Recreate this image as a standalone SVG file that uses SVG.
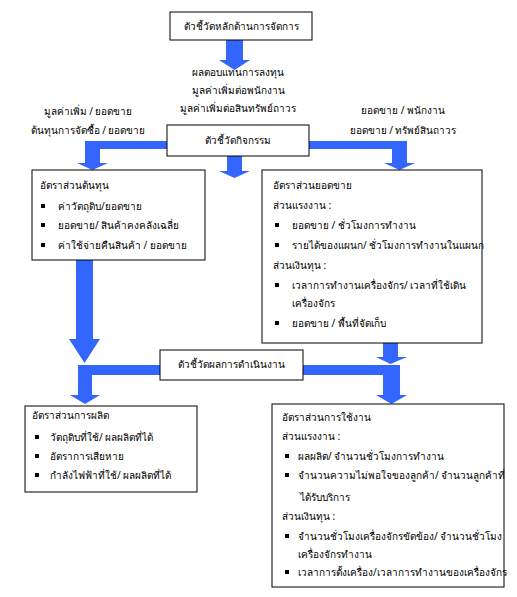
<svg xmlns="http://www.w3.org/2000/svg" width="517" height="597" viewBox="0 0 517 597">
<style>
text{font-family:"Noto Sans","DejaVu Sans",sans-serif;font-size:10px;fill:#000}
.c{text-anchor:middle}
.box{fill:#fff;stroke:#000;stroke-width:1}
.arr{fill:#3366ff;stroke:none}
.b{fill:#000}
</style>
<rect width="517" height="597" fill="#fff"/>
<g id="connectors">
<polygon class="arr" points="226,40 243,40 243,60 250,60 234.5,70 219,60 226,60"/>
<polygon class="arr" points="167,141 85,141 85,163 77,163 92.5,170 108,163 100,163 100,149 167,149"/>
<polygon class="arr" points="309,141 407,141 407,163 415,163 399.5,170 384,163 392,163 392,149 309,149"/>
<polygon class="arr" points="227,156 242,156 242,171 250,171 234.5,178 219,171 227,171"/>
<polygon class="arr" points="76,260 93,260 93,339 100,339 84.5,363 69,339 76,339"/>
<polygon class="arr" points="383,343 398,343 398,357 407,357 390.5,364 376,357 383,357"/>
<polygon class="arr" points="160,365 78,365 78,395 70,395 85,404 100,395 92,395 92,375 160,375"/>
<polygon class="arr" points="303,365 400,365 400,395 407,395 391.5,404 376,395 383,395 383,375 303,375"/>
</g>
<g id="top">
<rect class="box" x="170" y="12" width="142" height="28"/>
<text class="c" x="241" y="30">ตัวชี้วัดหลักด้านการจัดการ</text>
</g>
<g id="top-labels">
<text class="c" x="238" y="76">ผลตอบแทนการลงทุน</text>
<text class="c" x="238" y="94">มูลค่าเพิ่มต่อพนักงาน</text>
<text class="c" x="238" y="112">มูลค่าเพิ่มต่อสินทรัพย์ถาวร</text>
</g>
<g id="left-labels">
<text class="c" x="88" y="115">มูลค่าเพิ่ม / ยอดขาย</text>
<text class="c" x="88" y="134">ต้นทุนการจัดซื้อ / ยอดขาย</text>
</g>
<g id="right-labels">
<text class="c" x="403" y="114">ยอดขาย / พนักงาน</text>
<text class="c" x="403" y="134">ยอดขาย / ทรัพย์สินถาวร</text>
</g>
<g id="activity">
<rect class="box" x="167" y="125" width="142" height="31"/>
<text class="c" x="238" y="144">ตัวชี้วัดกิจกรรม</text>
</g>
<g id="cost">
<rect class="box" x="32" y="170" width="173" height="90"/>
<text x="40" y="189">อัตราส่วนต้นทุน</text>
<rect class="b" x="41" y="204" width="4" height="4"/>
<text x="58" y="210">ค่าวัตถุดิบ/ยอดขาย</text>
<rect class="b" x="41" y="223" width="4" height="4"/>
<text x="58" y="229">ยอดขาย/ สินค้าคงคลังเฉลี่ย</text>
<rect class="b" x="41" y="243" width="4" height="4"/>
<text x="58" y="249">ค่าใช้จ่ายคืนสินค้า / ยอดขาย</text>
</g>
<g id="sales">
<rect class="box" x="262" y="170" width="220" height="173"/>
<text x="273" y="189">อัตราส่วนยอดขาย</text>
<text x="273" y="209">ส่วนแรงงาน :</text>
<rect class="b" x="275" y="223" width="4" height="4"/>
<text x="292" y="229">ยอดขาย / ชั่วโมงการทำงาน</text>
<rect class="b" x="275" y="243" width="4" height="4"/>
<text x="292" y="249">รายได้ของแผนก/ ชั่วโมงการทำงานในแผนก</text>
<text x="273" y="269">ส่วนเงินทุน :</text>
<rect class="b" x="275" y="283" width="4" height="4"/>
<text x="292" y="289">เวลาการทำงานเครื่องจักร/ เวลาที่ใช้เดิน</text>
<text x="292" y="307">เครื่องจักร</text>
<rect class="b" x="275" y="321" width="4" height="4"/>
<text x="292" y="327">ยอดขาย / พื้นที่จัดเก็บ</text>
</g>
<g id="performance">
<rect class="box" x="160" y="350" width="143" height="30"/>
<text class="c" x="231" y="368">ตัวชี้วัดผลการดำเนินงาน</text>
</g>
<g id="production">
<rect class="box" x="25" y="406" width="172" height="86"/>
<text x="32" y="419">อัตราส่วนการผลิต</text>
<rect class="b" x="35" y="435" width="4" height="4"/>
<text x="50" y="441">วัตถุดิบที่ใช้/ ผลผลิตที่ได้</text>
<rect class="b" x="35" y="454" width="4" height="4"/>
<text x="50" y="460">อัตราการเสียหาย</text>
<rect class="b" x="35" y="473" width="4" height="4"/>
<text x="50" y="479">กำลังไฟฟ้าที่ใช้/ ผลผลิตที่ได้</text>
</g>
<g id="utilization">
<rect class="box" x="272" y="404" width="232" height="183"/>
<text x="282" y="421">อัตราส่วนการใช้งาน</text>
<text x="282" y="440">ส่วนแรงงาน :</text>
<rect class="b" x="285" y="454" width="4" height="4"/>
<text x="298" y="460">ผลผลิต/ จำนวนชั่วโมงการทำงาน</text>
<rect class="b" x="285" y="473" width="4" height="4"/>
<text x="298" y="479">จำนวนความไม่พอใจของลูกค้า/ จำนวนลูกค้าที่</text>
<text x="300" y="501">ได้รับบริการ</text>
<text x="282" y="520">ส่วนเงินทุน :</text>
<rect class="b" x="285" y="534" width="4" height="4"/>
<text x="298" y="540">จำนวนชั่วโมงเครื่องจักรขัดข้อง/ จำนวนชั่วโมง</text>
<text x="298" y="558">เครื่องจักรทำงาน</text>
<rect class="b" x="285" y="570" width="4" height="4"/>
<text x="298" y="576">เวลาการตั้งเครื่อง/เวลาการทำงานของเครื่องจักร</text>
</g>
</svg>
